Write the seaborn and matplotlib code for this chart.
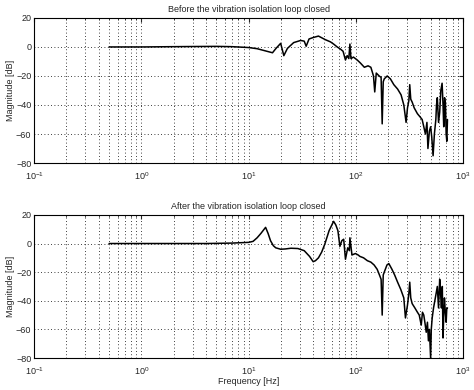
import numpy as np
import pandas as pd
import matplotlib
matplotlib.use('Agg')
import matplotlib.pyplot as plt
import seaborn as sns

# frequency [Hz] and magnitude [dB]
freq_before = [0.5, 1, 2, 3, 5, 7, 10, 12, 14, 16.7, 18, 19.9, 21.3, 23, 26.3,
               30.6, 33, 34.4, 36.6, 40, 44.8, 52, 58, 62, 67, 72, 76, 80, 83,
               86, 88, 90, 95, 103, 110, 120, 130, 138, 142, 146, 150, 155, 165,
               172, 176, 180, 184, 196, 210, 226, 245, 264, 280, 294, 303, 312,
               318, 325, 335, 350, 375, 395, 415, 430, 445, 460, 470, 485, 498,
               510, 525, 540, 557, 565, 575, 590, 605, 620, 637, 650, 660, 672,
               685, 695, 705, 715]
mag_before = [0, 0, 0.2, 0.3, 0.4, 0.2, -0.4, -1.2, -2.5, -4, -1, 2.5, -6, -1,
              3, 4.5, 4, 0.5, 5.5, 6.5, 7.5, 5, 3.5, 2, 0, -1.5, -3, -9, -6,
              -8, 2, -8, -7, -9, -11, -14, -13, -14, -17, -20, -31, -18, -20,
              -21, -53, -24, -22, -20, -22, -26, -29, -33, -40, -52, -42, -37,
              -26, -36, -38, -42, -46, -48, -50, -55, -60, -52, -70, -58, -55,
              -62, -75, -60, -50, -40, -35, -52, -45, -30, -25, -40, -55, -35,
              -40, -60, -65, -50]

freq_after = [0.5, 1, 2, 4, 7, 10, 11, 12, 13, 14.4, 15.2, 16, 17, 17.9, 19.9,
              22, 24.8, 28.8, 33, 37, 40, 42, 44.8, 48, 51.3, 56.3, 62, 65, 68,
              71, 74, 77, 80, 84, 87, 88, 92, 99, 105, 109, 118, 128, 138, 148,
              158, 166, 172, 176, 180, 184, 195, 203, 217, 230, 245, 262, 280,
              290, 303, 312, 318, 325, 335, 355, 375, 390, 407, 418, 430, 442,
              453, 465, 475, 485, 498, 505, 515, 530, 545, 560, 575, 590, 605,
              617, 628, 640, 650, 660, 670, 683, 695, 705, 715]
mag_after = [0, 0, 0, 0, 0.3, 0.8, 1.5, 4, 7, 11.3, 7, 2, -1.5, -3, -4, -3.8,
             -3.3, -3.5, -5, -9, -12.7, -12, -10, -6, -0.5, 9, 15.5, 13, 9, -2,
             2, 3, -11, -3, -5, 4, -8, -7, -8, -9, -10, -12, -13, -15, -18,
             -22, -25, -50, -22, -20, -15, -14, -18, -22, -27, -32, -38, -52,
             -43, -35, -27, -38, -42, -45, -48, -50, -57, -48, -50, -56, -62,
             -55, -68, -60, -80, -60, -52, -45, -40, -35, -30, -45, -25, -35,
             -45, -30, -66, -50, -38, -48, -55, -45, -45]

titles = ['Before the vibration isolation loop closed',
          'After the vibration isolation loop closed']
y_ticks = [-80, -60, -40, -20, 0, 20]

sns.set_style('white')
plt.rcParams['font.family'] = ['Liberation Sans', 'DejaVu Sans']

fig = plt.figure(figsize=(4.74, 3.9), dpi=100)
ax_top = fig.add_axes([0.072, 0.582, 0.905, 0.372])
ax_bot = fig.add_axes([0.072, 0.082, 0.905, 0.367])

panels = [(ax_top, freq_before, mag_before), (ax_bot, freq_after, mag_after)]
for (ax, f, m), title in zip(panels, titles):
    df = pd.DataFrame({'freq': f, 'mag': m})
    sns.lineplot(data=df, x='freq', y='mag', ax=ax, color='black',
                 linewidth=1.1, estimator=None, sort=False)
    ax.set_xscale('log')
    ax.set_xlim(0.1, 1000)
    ax.set_ylim(-80, 20)
    ax.set_yticks(y_ticks)
    ax.grid(True, which='both', axis='x', color='black',
            linestyle=(0, (1, 3)), linewidth=0.6)
    ax.grid(True, which='major', axis='y', color='black',
            linestyle=(0, (1, 3)), linewidth=0.6)
    ax.tick_params(which='both', direction='in', labelsize=6.5, length=3,
                   top=True, right=True, pad=2)
    ax.tick_params(which='minor', length=1.5)
    ax.tick_params(axis='x', pad=5)
    for s in ax.spines.values():
        s.set_color('black')
        s.set_linewidth(0.8)
    ax.set_title(title, fontsize=6.5, pad=4)
    ax.set_ylabel('Magnitude [dB]', fontsize=6.5, labelpad=1)
    ax.set_xlabel('')

ax_bot.set_xlabel('Frequency [Hz]', fontsize=6.5, labelpad=0)

fig.savefig('out.png', dpi=100)
